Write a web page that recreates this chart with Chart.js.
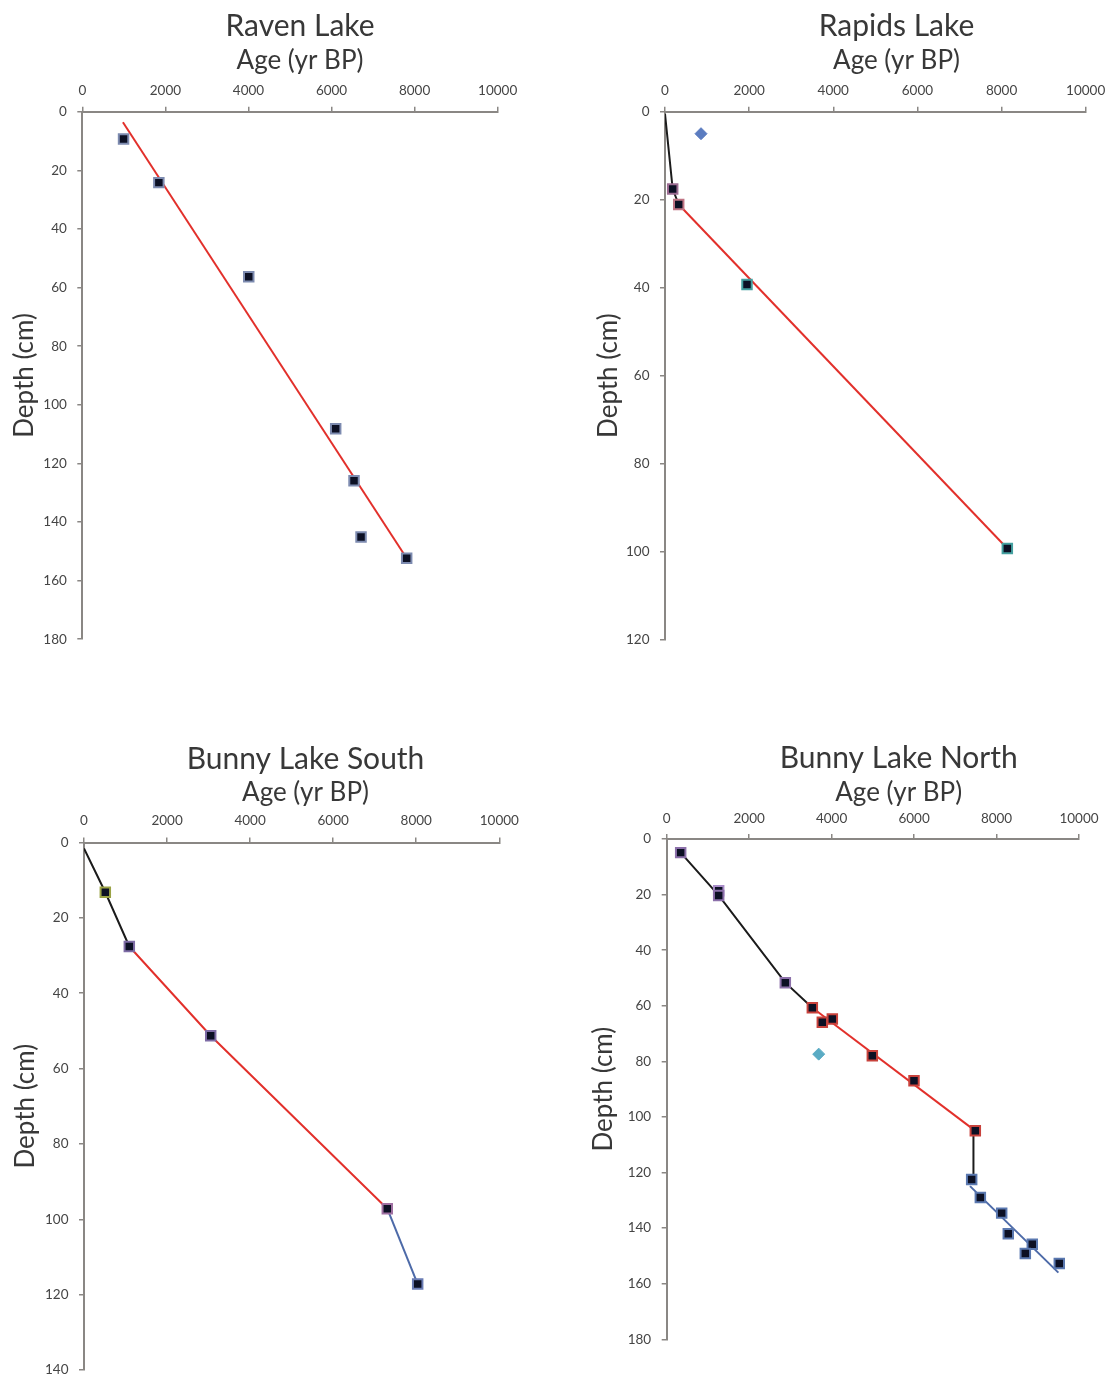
<!DOCTYPE html>
<html>
<head>
<meta charset="utf-8">
<title>Age–depth models</title>
<script src="https://cdn.jsdelivr.net/npm/chart.js@4.4.1/dist/chart.umd.min.js"></script>
<style>
  html, body { margin: 0; padding: 0; background: #ffffff; overflow: hidden; }
  body { width: 1106px; height: 1374px; position: relative; }
  canvas { position: absolute; }
</style>
</head>
<body>
<canvas id="raven"></canvas>
<canvas id="rapids"></canvas>
<canvas id="south"></canvas>
<canvas id="north"></canvas>
<script>
// ---- Shared axis ticks ----
const ageTicks = [0, 2000, 4000, 6000, 8000, 10000];
const depthStep = 20;

// ---- Raven Lake ----
const ravenAge   = [993, 1843, 4007, 6100, 6541, 6710, 7809];
const ravenDepth = [9.3, 24.2, 56.3, 108.2, 125.9, 145.1, 152.4];
const ravenFitAge   = [978, 7809];
const ravenFitDepth = [3.6, 152.4];

// ---- Rapids Lake ----
const rapidsAge   = [183, 326, 1949, 8137];
const rapidsDepth = [17.6, 21.1, 39.3, 99.3];
const rapidsRejectedAge   = [856];
const rapidsRejectedDepth = [5.0];
const rapidsUpperAge   = [0, 183, 326];
const rapidsUpperDepth = [0.5, 17.6, 21.1];
const rapidsLowerAge   = [326, 8137];
const rapidsLowerDepth = [21.1, 99.3];

// ---- Bunny Lake South ----
const southAge   = [513, 1091, 3051, 7303, 8035];
const southDepth = [13.2, 27.6, 51.3, 97.2, 117.2];
const southUpperAge   = [0, 513, 1091];
const southUpperDepth = [1.6, 13.2, 27.6];
const southMiddleAge   = [1091, 3051, 7303];
const southMiddleDepth = [27.6, 51.3, 97.2];
const southLowerAge   = [7303, 8035];
const southLowerDepth = [97.2, 117.2];

// ---- Bunny Lake North ----
const northAge   = [339, 1261, 1261, 2877, 3532, 3774, 4017, 4987, 5998, 7485,
                    7397, 7607, 8125, 8285, 8867, 8698, 9522];
const northDepth = [4.9, 18.6, 20.3, 51.7, 60.7, 65.9, 64.8, 78.0, 87.0, 105.0,
                    122.5, 129.0, 134.6, 142.0, 145.8, 149.1, 152.7];
const northRejectedAge   = [3687];
const northRejectedDepth = [77.4];
const northUpperAge   = [339, 1261, 2877, 3532];
const northUpperDepth = [4.9, 20.3, 51.7, 60.7];
const northMiddleAge   = [3532, 7485];
const northMiddleDepth = [60.7, 105.0];
const northHiatusAge   = [7440, 7440];
const northHiatusDepth = [105.0, 122.5];
const northLowerAge   = [7357, 9500];
const northLowerDepth = [124.9, 156.0];

// ---- Styling ----
const FONT = 'Lato';
const AXIS = '#8a8784';
const TEXT = '#383838';
const TICK_TEXT = '#454545';
const MARKER_FILL = '#0c1024';
const RED = '#e2302b';
const BLACK = '#1b1b1b';
const BLUE = '#4d6aa8';

const ravenBorders  = ['#7d8bb0', '#7d8bb0', '#7d8bb0', '#7d8bb0', '#7d8bb0', '#7d8bb0', '#7d8bb0'];
const rapidsBorders = ['#9c6c92', '#c07484', '#44a0a0', '#44a0a0'];
const southBorders  = ['#9aa244', '#7e6ca6', '#7e6ca6', '#a070a2', '#6a7cb4'];
const northBorders  = ['#8c70aa', '#a88cc8', '#8c70aa', '#8c70aa',
                       '#c8423c', '#c8423c', '#c8423c', '#c8423c', '#c8423c', '#c8423c',
                       '#5a78b0', '#5a78b0', '#5a78b0', '#5a78b0', '#5a78b0', '#5a78b0', '#5a78b0'];

Chart.defaults.font.family = FONT;
Chart.defaults.animation = false;

function pts(xs, ys) { return xs.map((x, i) => ({ x: x, y: ys[i] })); }

function markers(xs, ys, borders) {
  return {
    data: pts(xs, ys), showLine: false,
    pointStyle: 'rect', pointRadius: 6.7, pointHoverRadius: 6.7,
    pointBackgroundColor: MARKER_FILL, pointBorderColor: borders, pointBorderWidth: 2
  };
}
function diamonds(xs, ys, color) {
  return {
    data: pts(xs, ys), showLine: false,
    pointStyle: 'rectRot', pointRadius: 6, pointHoverRadius: 6,
    pointBackgroundColor: color, pointBorderColor: color, pointBorderWidth: 1
  };
}
function segment(xs, ys, color) {
  return {
    data: pts(xs, ys), showLine: true, borderColor: color, borderWidth: 2,
    pointRadius: 0, pointHoverRadius: 0, fill: false, tension: 0
  };
}

// Builds one age-depth panel. g: page-space frame of the plot area and text anchors.
function panel(id, name, depthMax, datasets, g) {
  const cv = document.getElementById(id);
  const L = g.L - g.left, R = g.R - g.left, T = g.T - g.top, B = g.B - g.top;
  const cx = g.cx - g.left, dx = g.dx - g.left;
  const depthPad = 4, depthHalf = 13;
  const pl = dx - depthPad - depthHalf;
  const yWidth = L - pl;
  const extent = 2 * cx - pl;
  const W = Math.ceil(extent);
  const rightW = extent - R;
  const H = g.H;
  const titlePadTop = g.titleY - g.top - 15;
  const subPadTop = g.ageY - g.titleY - 28;
  const xHeight = T - (g.ageY - g.top) - 13;
  const tickPad = T - 5 - 8.1 - (g.tickY - g.top);

  cv.width = W; cv.height = H;
  cv.style.left = g.left + 'px'; cv.style.top = g.top + 'px';
  cv.style.width = W + 'px'; cv.style.height = H + 'px';

  new Chart(cv, {
    type: 'scatter',
    data: { datasets: datasets },
    options: {
      responsive: false, maintainAspectRatio: false, devicePixelRatio: 1,
      layout: { padding: { left: pl, right: W - extent, top: 0, bottom: H - B } },
      plugins: {
        legend: { display: false }, tooltip: { enabled: false },
        title: { display: true, text: name, color: TEXT,
                 font: { size: 30, weight: 'normal', lineHeight: 1 },
                 padding: { top: titlePadTop, bottom: 0 } },
        subtitle: { display: true, text: 'Age (yr BP)', color: TEXT,
                    font: { size: 26, weight: 'normal', lineHeight: 1 },
                    padding: { top: subPadTop, bottom: 0 } }
      },
      scales: {
        x: {
          type: 'linear', position: 'top', min: 0, max: 10000,
          afterBuildTicks: s => { s.ticks = ageTicks.map(v => ({ value: v })); },
          afterFit: s => { s.height = xHeight; },
          border: { display: true, color: AXIS, width: 2 },
          grid: { drawOnChartArea: false, drawTicks: true, tickLength: 5, color: AXIS, lineWidth: 1.5 },
          ticks: { color: TICK_TEXT, font: { size: 13.5 }, padding: tickPad, maxRotation: 0,
                   callback: v => String(v) }
        },
        y: {
          type: 'linear', position: 'left', reverse: true, min: 0, max: depthMax,
          afterFit: s => { s.width = yWidth; s.paddingTop = 0; s.paddingBottom = 0; },
          border: { display: true, color: AXIS, width: 2 },
          grid: { drawOnChartArea: false, drawTicks: true, tickLength: 5, color: AXIS, lineWidth: 1.5 },
          ticks: { stepSize: depthStep, color: TICK_TEXT, font: { size: 13.5 }, padding: 10.5,
                   callback: v => String(v) },
          title: { display: true, text: 'Depth (cm)', color: TEXT,
                   font: { size: 26, lineHeight: 1 }, padding: { top: depthPad, bottom: 0 } }
        },
        gutter: {
          type: 'linear', position: 'right', display: true,
          afterFit: s => { s.width = rightW; },
          border: { display: false }, grid: { display: false }, ticks: { display: false }
        }
      }
    }
  });
}

panel('raven', 'Raven Lake', 180, [
  markers(ravenAge, ravenDepth, ravenBorders),
  segment(ravenFitAge, ravenFitDepth, RED)
], { left: 0, top: 0, H: 690, L: 82.3, R: 497.7, T: 111.7, B: 639.2,
     cx: 300, dx: 25, titleY: 26, ageY: 61, tickY: 91 });

panel('rapids', 'Rapids Lake', 120, [
  markers(rapidsAge, rapidsDepth, rapidsBorders),
  diamonds(rapidsRejectedAge, rapidsRejectedDepth, '#5b7cc0'),
  segment(rapidsUpperAge, rapidsUpperDepth, BLACK),
  segment(rapidsLowerAge, rapidsLowerDepth, RED)
], { left: 553, top: 0, H: 690, L: 665, R: 1085.7, T: 111.7, B: 639.5,
     cx: 896.5, dx: 609, titleY: 26, ageY: 61, tickY: 91 });

panel('south', 'Bunny Lake South', 140, [
  markers(southAge, southDepth, southBorders),
  segment(southUpperAge, southUpperDepth, BLACK),
  segment(southMiddleAge, southMiddleDepth, RED),
  segment(southLowerAge, southLowerDepth, BLUE)
], { left: 0, top: 690, H: 712, L: 84, R: 499.3, T: 842.5, B: 1370,
     cx: 305.5, dx: 26, titleY: 759, ageY: 793, tickY: 821 });

panel('north', 'Bunny Lake North', 180, [
  markers(northAge, northDepth, northBorders),
  diamonds(northRejectedAge, northRejectedDepth, '#5aabc4'),
  segment(northUpperAge, northUpperDepth, BLACK),
  segment(northMiddleAge, northMiddleDepth, RED),
  segment(northHiatusAge, northHiatusDepth, BLACK),
  segment(northLowerAge, northLowerDepth, BLUE)
], { left: 553, top: 690, H: 684, L: 666.7, R: 1079, T: 839, B: 1339.3,
     cx: 898.7, dx: 604, titleY: 758.5, ageY: 793, tickY: 819 });
</script>
</body>
</html>
